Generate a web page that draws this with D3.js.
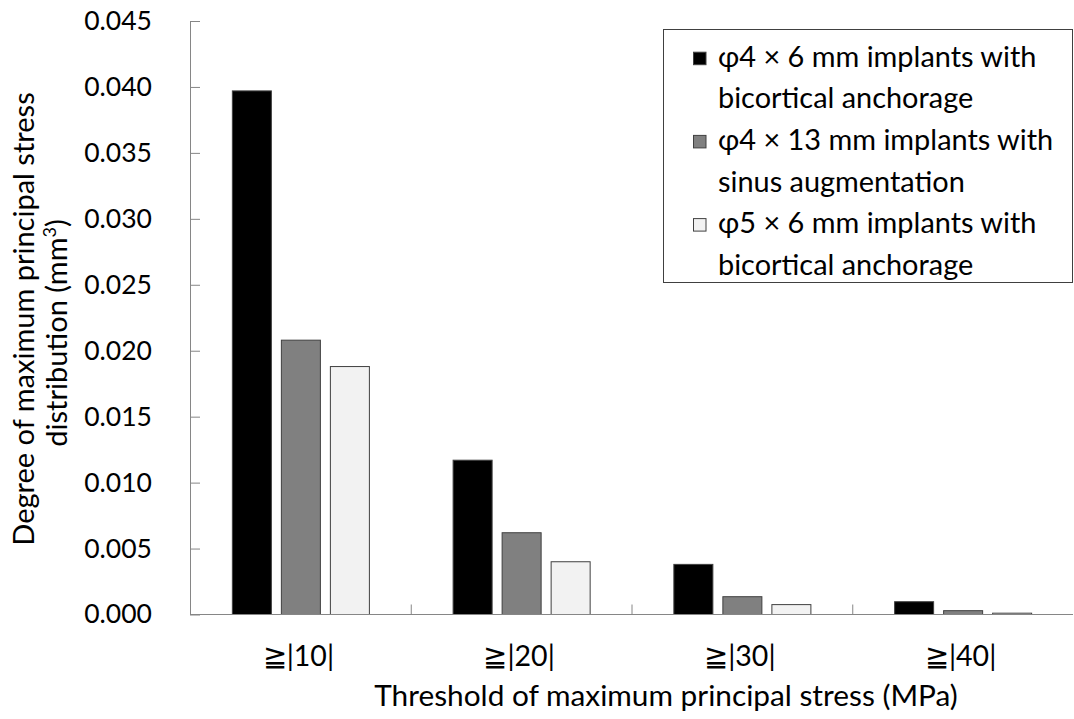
<!DOCTYPE html>
<html>
<head>
<meta charset="utf-8">
<script src="https://cdn.jsdelivr.net/npm/d3@7"></script>
<style>
  body { margin: 0; background: #fff; }
  svg { display: block; font-family: Lato, "Open Sans", sans-serif; }
</style>
</head>
<body>
<svg id="chart" width="1074" height="719"></svg>
<script>
// categories and series
const categories = ['≧|10|', '≧|20|', '≧|30|', '≧|40|'];
const seriesNames = [
    ['φ4 × 6 mm implants with', 'bicortical anchorage'],
    ['φ4 × 13 mm implants with', 'sinus augmentation'],
    ['φ5 × 6 mm implants with', 'bicortical anchorage']
];
const bicortical4x6 = [0.0397, 0.0117, 0.0038, 0.00097];
const sinus4x13 = [0.0208, 0.0062, 0.00135, 0.00029];
const bicortical5x6 = [0.0188, 0.0040, 0.00075, 0.0001];
const yTicks = [0, 0.005, 0.010, 0.015, 0.020, 0.025, 0.030, 0.035, 0.040, 0.045];
const colors = ['#000000', '#808080', '#f2f2f2'];

const series = [bicortical4x6, sinus4x13, bicortical5x6];

let svg = d3.select('#chart');
let plotLeft = 190, plotRight = 1073, plotTop = 21, plotBottom = 614.5;

let x = d3.scaleBand().domain(categories).range([plotLeft, plotRight]);
// 39px bars with 10px gaps inside each 221px category
let xInner = d3.scaleBand().domain(d3.range(series.length))
    .range([0, x.bandwidth()]).paddingInner(0.204).paddingOuter(0.854);
let y = d3.scaleLinear().domain([0, 0.045]).range([plotBottom, plotTop]);

// bars
series.forEach((vals, s) => {
    svg.append('g').selectAll('rect')
        .data(vals)
        .enter()
        .append('rect')
        .attr('x', (d, i) => x(categories[i]) + xInner(s) + 0.5)
        .attr('y', d => y(d))
        .attr('width', xInner.bandwidth())
        .attr('height', d => plotBottom - y(d))
        .attr('fill', colors[s])
        .attr('stroke', '#404040')
        .attr('stroke-width', 1);
});

// y axis, ticks pointing inward
let yAxis = svg.append('g')
    .attr('transform', `translate(${plotLeft},0)`)
    .call(d3.axisRight(y).tickValues(yTicks).tickSize(10).tickFormat(d3.format('.3f')));
yAxis.select('.domain').attr('stroke', '#868686').attr('d', `M0.5,${plotTop}V${plotBottom}`);
yAxis.selectAll('.tick line').attr('stroke', '#868686');
yAxis.selectAll('.tick text')
    .attr('x', -38)
    .attr('text-anchor', 'end')
    .attr('font-size', 26.5)
    .attr('font-family', 'Lato, sans-serif')
    .attr('fill', '#000');

// x axis with separator ticks between categories
let xAxis = svg.append('g').attr('transform', `translate(0,${plotBottom})`);
xAxis.append('line')
    .attr('x1', plotLeft).attr('x2', plotRight)
    .attr('stroke', '#868686');
xAxis.selectAll('line.sep')
    .data(categories.slice(1))
    .enter()
    .append('line')
    .attr('class', 'sep')
    .attr('x1', d => x(d) + 0.5).attr('x2', d => x(d) + 0.5)
    .attr('y1', 0).attr('y2', -10)
    .attr('stroke', '#868686');
xAxis.selectAll('text')
    .data(categories)
    .enter()
    .append('text')
    .attr('x', d => x(d) + x.bandwidth() / 2 - 2)
    .attr('y', 51)
    .attr('text-anchor', 'middle')
    .attr('font-size', 28.5)
    .text(d => d);

// axis titles
svg.append('text')
    .attr('x', 666)
    .attr('y', 706)
    .attr('text-anchor', 'middle')
    .attr('font-size', 29.8)
    .text('Threshold of maximum principal stress (MPa)');

let yTitle = svg.append('text')
    .attr('transform', 'translate(34,319) rotate(-90)')
    .attr('text-anchor', 'middle')
    .attr('font-size', 29);
yTitle.append('tspan').attr('x', 0).attr('dy', 0).text('Degree of maximum principal stress');
let l2 = yTitle.append('tspan').attr('x', -14).attr('dy', 33).text('distribution (mm');
l2.append('tspan').attr('dy', -11).attr('font-size', 18).text('3');
l2.append('tspan').attr('dy', 11).text(')');

// legend
let legend = svg.append('g');
legend.append('rect')
    .attr('x', 663.5).attr('y', 29.5)
    .attr('width', 409).attr('height', 253)
    .attr('fill', '#fff')
    .attr('stroke', '#404040');
seriesNames.forEach((lines, s) => {
    let gy = 66.7 + s * 83.2;
    legend.append('rect')
        .attr('x', 693.5).attr('y', gy - 14.5)
        .attr('width', 12.5).attr('height', 12.5)
        .attr('fill', colors[s])
        .attr('stroke', '#404040');
    legend.append('text')
        .attr('x', 718).attr('y', gy)
        .attr('font-size', 28.9)
        .text(lines[0]);
    legend.append('text')
        .attr('x', 718).attr('y', gy + 41.6)
        .attr('font-size', 28.9)
        .text(lines[1]);
});
</script>
</body>
</html>
